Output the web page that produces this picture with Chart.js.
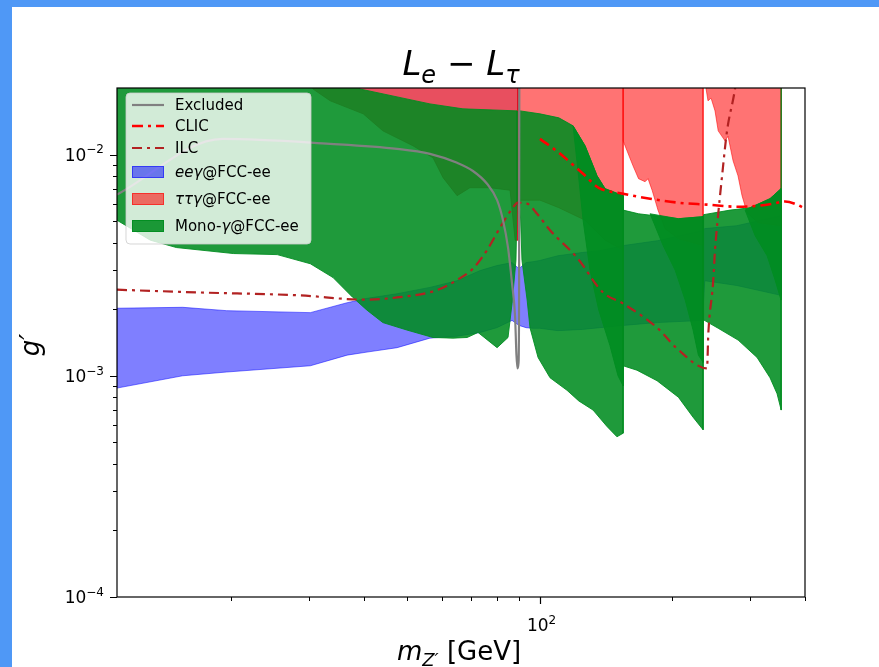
<!DOCTYPE html>
<html>
<head>
<meta charset="utf-8">
<title>Le - Ltau reach</title>
<script src="https://cdn.jsdelivr.net/npm/chart.js@4.4.1/dist/chart.umd.min.js"></script>
<style>
  html, body { margin: 0; padding: 0; background: #fff; }
  canvas { display: block; }
</style>
</head>
<body>
<canvas id="chart" width="879" height="667"></canvas>
<script>
// Axis ranges and ticks
const massRange = [11, 400];
const couplingRange = [1e-4, 2e-2];
const massTicksMajor = [100];
const massTicksMinor = [20, 30, 40, 50, 60, 70, 80, 90, 200, 300, 400];
const couplingTicksMajor = [1e-4, 1e-3, 1e-2];
const couplingTicksMinor = [2e-4, 3e-4, 4e-4, 5e-4, 6e-4, 7e-4, 8e-4, 9e-4,
  2e-3, 3e-3, 4e-3, 5e-3, 6e-3, 7e-3, 8e-3, 9e-3];

// Existing exclusion
const excludedMass = [11, 19.1, 33.5, 47.5, 56.4, 65.0, 70.6, 76.0, 80.1, 82.6, 84.8, 86.6, 88.0, 88.6, 89.1, 89.6, 89.85, 90.0];
const excludedG = [0.0066, 0.01178, 0.01119, 0.01062, 0.01008, 0.00918, 0.00843, 0.00738, 0.00622, 0.00505, 0.0038, 0.00261, 0.00184, 0.00125, 0.00108, 0.00115, 0.0025, 0.05];

// CLIC projection
const clicMass = [100.2, 110.6, 125.5, 136.2, 154.7, 178.1, 206.5, 239.8, 282.1, 313.1, 338.5, 360.4, 383.6, 400];
const clicG = [0.01178, 0.01019, 0.00819, 0.00708, 0.00665, 0.00632, 0.00606, 0.00594, 0.00581, 0.00587, 0.006, 0.00614, 0.00594, 0.00569];

// ILC projection
const ilcMass = [11, 17, 28.6, 39.8, 47.5, 58.5, 65, 70.6, 76, 81.3, 86.6, 89.3, 93.7, 98.7, 105.6, 121.6, 139.3, 154.7, 184.7, 206.5, 239.8, 241.4, 247.4, 250, 254, 259.4, 266.2, 277.5, 281];
const ilcG = [0.00245, 0.00238, 0.00231, 0.00221, 0.00226, 0.00244, 0.00271, 0.00305, 0.0037, 0.00467, 0.00569, 0.00606, 0.006, 0.0054, 0.00455, 0.00342, 0.00238, 0.00212, 0.00165, 0.00131, 0.00108, 0.00155, 0.00261, 0.0037, 0.00529, 0.00802, 0.0128, 0.0198, 0.024];

// ee gamma band
const eegMass = [11, 15.5, 19.5, 30.2, 36.6, 40.6, 47.5, 56.4, 65, 73.3, 80, 86.6, 89.8, 93.2, 96.6, 100, 110, 125, 137, 155, 185, 234, 237, 280, 353];
const eegUpper = [0.00202, 0.00204, 0.00197, 0.00193, 0.00214, 0.00224, 0.00235, 0.00251, 0.00269, 0.00299, 0.00315, 0.00325, 0.00305, 0.00325, 0.00328, 0.00332, 0.00349, 0.00361, 0.00368, 0.00388, 0.00408, 0.00453, 0.00463, 0.00477, 0.00529];
const eegLower = [0.00088, 0.001, 0.00104, 0.00111, 0.00124, 0.00128, 0.00134, 0.00148, 0.00151, 0.00157, 0.00165, 0.00178, 0.00169, 0.00165, 0.00164, 0.00164, 0.0016, 0.00162, 0.00165, 0.00169, 0.00174, 0.00178, 0.00269, 0.00256, 0.00231];

// tau tau gamma: lower edges, each region open towards large g'
const ttgZSpan = [30.0, 89.3];
const ttgZLower = [[30.6, 0.0198], [33.5, 0.0175], [39.8, 0.01528], [44.1, 0.0128], [51.6, 0.01096], [57.3, 0.00967], [60.4, 0.00786], [65.0, 0.00652], [69.5, 0.00708], [77.2, 0.00708], [85.7, 0.0069], [88.0, 0.0041], [89.3, 0.0041]];
const ttgWWSpan = [89.3, 154.7];
const ttgWWLower = [[89.3, 0.00622], [100.2, 0.00622], [110.6, 0.00575], [126.8, 0.00505], [140.8, 0.0041], [154.7, 0.0037]];
const ttgZHSpan = [154.7, 234.9];
const ttgZHLower = [[154.7, 0.01154], [157.9, 0.0104], [162.9, 0.0089], [167.7, 0.00778], [173.5, 0.00754], [176.2, 0.00778], [180, 0.0069], [185.6, 0.00561], [192.6, 0.00462], [206.5, 0.00417], [234.9, 0.00388]];
const ttgTTSpan = [238.6, 353.2];
const ttgTTLower = [[238.6, 0.0198], [241, 0.0175], [244.9, 0.018], [250, 0.01576], [254.2, 0.0128], [263.4, 0.01154], [267.6, 0.0121], [274.7, 0.00938], [281.9, 0.00802], [287.9, 0.00652], [295.5, 0.00546], [313.1, 0.00492], [353.2, 0.00477]];

// mono photon bands, one pair per run
const monoZUpper = [[11, 0.03], [38.1, 0.03], [39.1, 0.0198], [56.4, 0.01695], [67.0, 0.0161], [88.9, 0.01576]];
const monoZLower = [[11, 0.00505], [13.1, 0.0041], [15.0, 0.0038], [20.2, 0.00357], [25.4, 0.00353], [30.2, 0.00321], [34.0, 0.00278], [37.7, 0.00226], [40.6, 0.00198], [44.1, 0.00174], [50.0, 0.00161], [57.3, 0.00149], [63.6, 0.00148], [68.5, 0.00149], [72.5, 0.00157], [80.1, 0.00134], [84.8, 0.00149], [86.6, 0.00212], [88.4, 0.00333], [88.9, 0.006]];
const monoWWUpper = [[90.3, 0.01576], [100.2, 0.01528], [110.6, 0.01466], [119.1, 0.01349], [126.8, 0.01096], [135.0, 0.00802], [140.8, 0.00701], [154.7, 0.00652]];
const monoWWLower = [[90.3, 0.006], [91.2, 0.00333], [93.7, 0.0022], [95.1, 0.00165], [99.2, 0.00121], [105.6, 0.00098], [115.4, 0.00086], [122.7, 0.00077], [132.2, 0.0007], [142.2, 0.00059], [149.8, 0.00053], [154.7, 0.00055]];
const monoWW2Upper = [[119.1, 0.01349], [126.8, 0.01096], [135.0, 0.00802], [140.8, 0.00701], [154.7, 0.00652]];
const monoWW2Lower = [[122.2, 0.00843], [125.5, 0.00505], [130.1, 0.003], [136.2, 0.00198], [144.4, 0.00137], [150.6, 0.001], [154.7, 0.0009]];
const monoZHUpper = [[154.7, 0.00561], [167.7, 0.0054], [182.7, 0.00529], [206.5, 0.00513], [234.9, 0.00524]];
const monoZHLower = [[154.7, 0.00111], [166.3, 0.00106], [184.7, 0.00095], [206.5, 0.0008], [222.9, 0.00065], [234.9, 0.00057]];
const monoZH2Upper = [[178.1, 0.0054], [206.5, 0.00513], [234.9, 0.00524]];
const monoZH2Lower = [[190.6, 0.00388], [203, 0.003], [213.9, 0.0022], [222.9, 0.00161], [229.2, 0.00124], [234.9, 0.00115]];
const monoTTUpper = [[235.5, 0.00535], [270.5, 0.00561], [300.2, 0.00575], [333.2, 0.00632], [352.9, 0.00701], [353.2, 0.03]];
const monoTTLower = [[235.5, 0.00179], [254.2, 0.00164], [282.1, 0.00145], [311.4, 0.00121], [333.2, 0.00098], [345.7, 0.00083], [353.2, 0.0007]];
const monoTT2Upper = [[292.5, 0.00561], [300.2, 0.00575], [333.2, 0.00632], [352.9, 0.00701]];
const monoTT2Lower = [[308.2, 0.0043], [328.1, 0.00349], [342.1, 0.00271], [352.9, 0.0022]];

const colBlue = 'rgba(0,0,255,0.5)';
const colRed = 'rgba(255,0,0,0.55)';
const colRedZ = 'rgba(221,0,23,0.69)';
const colGreen = 'rgba(0,140,32,0.88)';
const colGrey = '#808080';
const colClic = '#ff0000';
const colIlc = '#b22222';

function shape(upper, lower, color, order) {
  const pts = upper.concat(lower.slice().reverse()).map(([x, y]) => ({ x, y }));
  pts.push(pts[0]);
  return {
    data: pts, showLine: true, fill: 'shape', backgroundColor: color,
    borderColor: color, borderWidth: 1, pointRadius: 0, order
  };
}

function openTop(span, lower, color, order) {
  return shape([[span[0], 0.03], [span[1], 0.03]], lower, color, order);
}

function curve(label, xs, ys, color, width, dash) {
  return {
    label, data: xs.map((x, i) => ({ x, y: ys[i] })), showLine: true, fill: false,
    borderColor: color, borderWidth: width, borderDash: dash, pointRadius: 0,
    cubicInterpolationMode: 'monotone', order: 1
  };
}

const datasets = [
  curve('Excluded', excludedMass, excludedG, colGrey, 2.2, []),
  curve('CLIC', clicMass, clicG, colClic, 2.6, [11, 5, 3, 5]),
  curve('ILC', ilcMass, ilcG, colIlc, 2.2, [10, 5, 3, 5]),
  shape(eegMass.map((m, i) => [m, eegUpper[i]]), eegMass.map((m, i) => [m, eegLower[i]]), colBlue, 4),
  openTop(ttgZSpan, ttgZLower, colRedZ, 3),
  openTop(ttgWWSpan, ttgWWLower, colRed, 3),
  openTop(ttgZHSpan, ttgZHLower, colRed, 3),
  openTop(ttgTTSpan, ttgTTLower, colRed, 3),
  shape(monoZUpper, monoZLower, colGreen, 2),
  shape(monoWWUpper, monoWWLower, colGreen, 2),
  shape(monoWW2Upper, monoWW2Lower, colGreen, 2),
  shape(monoZHUpper, monoZHLower, colGreen, 2),
  shape(monoZH2Upper, monoZH2Lower, colGreen, 2),
  shape(monoTTUpper, monoTTLower, colGreen, 2),
  shape(monoTT2Upper, monoTT2Lower, colGreen, 2)
];

const legendEntries = [
  { kind: 'line', color: colGrey, width: 2.2, dash: [], parts: [{ t: 'Excluded' }] },
  { kind: 'line', color: colClic, width: 2.6, dash: [11, 5, 3, 5], parts: [{ t: 'CLIC' }] },
  { kind: 'line', color: colIlc, width: 2.2, dash: [10, 5, 3, 5], parts: [{ t: 'ILC' }] },
  { kind: 'patch', color: colBlue, parts: [{ t: 'eeγ', it: true }, { t: '@FCC-ee' }] },
  { kind: 'patch', color: colRed, parts: [{ t: 'ττγ', it: true }, { t: '@FCC-ee' }] },
  { kind: 'patch', color: colGreen, parts: [{ t: 'Mono-' }, { t: 'γ', it: true }, { t: '@FCC-ee' }] }
];
const legendRows = [105, 126, 148, 172, 199, 226];

// mixed italic / sub / superscript text
function drawRich(c, parts, x, y, size, align) {
  const fontFor = p => (p.it ? 'italic ' : '') + ((p.sub || p.sup) ? Math.round(size * 0.7) : size) + 'px "DejaVu Sans"';
  let w = 0;
  parts.forEach(p => { c.font = fontFor(p); w += c.measureText(p.t).width; });
  let cx = align === 'center' ? x - w / 2 : align === 'right' ? x - w : x;
  parts.forEach(p => {
    c.font = fontFor(p);
    const dy = p.sub ? size * 0.24 : p.sup ? -size * 0.42 : 0;
    c.fillText(p.t, cx, y + dy);
    cx += c.measureText(p.t).width;
  });
}

function expParts(v) {
  const e = Math.round(Math.log10(v));
  return [{ t: '10' }, { t: (e < 0 ? '\u2212' : '') + Math.abs(e), sup: true }];
}

const decorations = {
  id: 'decorations',
  beforeDraw(chart) {
    const c = chart.ctx;
    c.save();
    c.fillStyle = '#ffffff';
    c.fillRect(0, 0, chart.width, chart.height);
    c.fillStyle = '#4f98f6';
    c.fillRect(0, 0, chart.width, 7);
    c.fillRect(0, 0, 12, chart.height);
    c.restore();
  },
  afterDraw(chart) {
    const c = chart.ctx;
    const a = chart.chartArea;
    const xs = chart.scales.x, ys = chart.scales.y;
    c.save();
    c.strokeStyle = '#000';
    c.fillStyle = '#000';
    c.lineWidth = 1.2;
    c.strokeRect(a.left, a.top, a.right - a.left, a.bottom - a.top);

    // ticks
    c.beginPath();
    couplingTicksMajor.forEach(v => { const p = Math.round(ys.getPixelForValue(v)) + 0.5; c.moveTo(a.left - 7, p); c.lineTo(a.left, p); });
    massTicksMajor.forEach(v => { const p = Math.round(xs.getPixelForValue(v)) + 0.5; c.moveTo(p, a.bottom); c.lineTo(p, a.bottom + 7); });
    c.stroke();
    c.lineWidth = 1;
    c.beginPath();
    couplingTicksMinor.forEach(v => { const p = Math.round(ys.getPixelForValue(v)) + 0.5; c.moveTo(a.left - 4, p); c.lineTo(a.left, p); });
    massTicksMinor.forEach(v => { const p = Math.round(xs.getPixelForValue(v)) + 0.5; c.moveTo(p, a.bottom); c.lineTo(p, a.bottom + 4); });
    c.stroke();

    // tick labels
    c.textBaseline = 'alphabetic';
    couplingTicksMajor.forEach(v => drawRich(c, expParts(v), a.left - 13, ys.getPixelForValue(v) + 6, 17, 'right'));
    massTicksMajor.forEach(v => drawRich(c, expParts(v), xs.getPixelForValue(v) + 2, a.bottom + 34, 17, 'center'));

    // titles
    drawRich(c, [{ t: 'L', it: true }, { t: 'e', it: true, sub: true }, { t: ' \u2212 ' }, { t: 'L', it: true }, { t: 'τ', it: true, sub: true }], 461, 75, 34, 'center');
    drawRich(c, [{ t: 'm', it: true }, { t: 'Z\u2032', it: true, sub: true }, { t: ' [GeV]' }], 459, 660, 26, 'center');
    c.save();
    c.translate(39, 345);
    c.rotate(-Math.PI / 2);
    drawRich(c, [{ t: 'g', it: true }, { t: '\u2032', it: true }], 0, 0, 26, 'center');
    c.restore();

    // legend
    const lx = 126, ly = 93, lw = 185, lh = 151;
    c.beginPath();
    c.roundRect(lx, ly, lw, lh, 4);
    c.fillStyle = 'rgba(255,255,255,0.8)';
    c.fill();
    c.strokeStyle = 'rgba(204,204,204,0.8)';
    c.lineWidth = 1;
    c.stroke();
    legendEntries.forEach((e, i) => {
      const yc = legendRows[i];
      if (e.kind === 'line') {
        c.strokeStyle = e.color;
        c.lineWidth = e.width;
        c.setLineDash(e.dash);
        c.beginPath();
        c.moveTo(132, yc);
        c.lineTo(164, yc);
        c.stroke();
        c.setLineDash([]);
      } else {
        c.fillStyle = e.color;
        c.strokeStyle = e.color;
        c.lineWidth = 1;
        c.fillRect(132, yc - 6, 32, 12);
        c.strokeRect(132.5, yc - 5.5, 31, 11);
      }
      c.fillStyle = '#000';
      drawRich(c, e.parts, 175, yc + 5, 15, 'left');
    });
    c.restore();
  }
};

new Chart(document.getElementById('chart'), {
  type: 'scatter',
  data: { datasets },
  options: {
    responsive: false,
    animation: false,
    layout: { padding: { left: 117, right: 74, top: 88, bottom: 70 } },
    scales: {
      x: { type: 'logarithmic', min: massRange[0], max: massRange[1], display: false },
      y: { type: 'logarithmic', min: couplingRange[0], max: couplingRange[1], display: false }
    },
    plugins: { legend: { display: false }, tooltip: { enabled: false } },
    elements: { point: { radius: 0 } }
  },
  plugins: [decorations]
});
</script>
</body>
</html>
